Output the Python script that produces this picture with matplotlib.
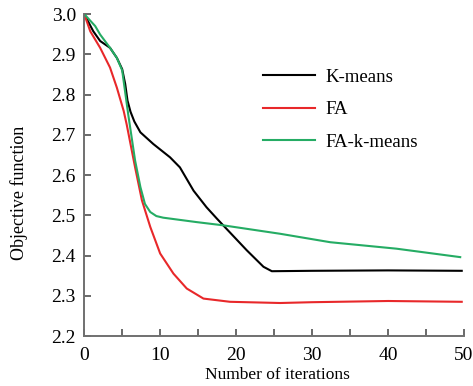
import matplotlib
matplotlib.use("Agg")
import matplotlib.pyplot as plt
from matplotlib.ticker import MultipleLocator, FormatStrFormatter

plt.rcParams["font.family"] = ["Liberation Serif", "DejaVu Serif"]

# K-means
km_x = [0, 1.2, 2.1, 3.4, 4.3, 5.0, 5.4, 5.7, 6.1, 6.6, 7.4, 9.1, 11.3, 12.6, 14.4, 16.1, 17.5,
        18.3, 21.4, 23.6, 24.7, 30, 40, 49.7]
km_y = [3.0, 2.957, 2.933, 2.916, 2.891, 2.863, 2.826, 2.785, 2.757, 2.733, 2.706, 2.677, 2.644,
        2.619, 2.561, 2.52, 2.491, 2.475, 2.413, 2.372, 2.361, 2.362, 2.363, 2.362]

# FA
fa_x = [0, 0.8, 2.1, 3.4, 4.3, 5.2, 5.6, 6.7, 7.6, 8.7, 10, 11.75, 13.5, 15.7, 19.2, 25.8, 30, 40, 49.7]
fa_y = [3.0, 2.957, 2.916, 2.867, 2.817, 2.759, 2.725, 2.619, 2.537, 2.471, 2.405, 2.355, 2.318,
        2.293, 2.285, 2.282, 2.284, 2.287, 2.285]

# FA-k-means
fk_x = [0, 1.45, 2.1, 3.4, 4.3, 5.0, 5.8, 6.7, 7.4, 8.0, 8.7, 9.5, 10.4, 12, 14.8, 18.3, 25.8,
        32.4, 41.1, 49.5]
fk_y = [3.0, 2.97, 2.949, 2.916, 2.891, 2.86, 2.75, 2.636, 2.57, 2.528, 2.508, 2.498, 2.494, 2.49,
        2.483, 2.475, 2.454, 2.433, 2.417, 2.396]

fig = plt.figure(figsize=(4.73, 3.86), dpi=100)
ax = fig.add_axes([0.178, 0.1295, 0.803, 0.8342])

ax.plot(km_x, km_y, color="black", lw=1.5, label="K-means")
ax.plot(fa_x, fa_y, color="#e8282a", lw=1.5, label="FA")
ax.plot(fk_x, fk_y, color="#25ac64", lw=1.5, label="FA-k-means")

ax.set_xlim(0, 50)
ax.set_ylim(2.2, 3.0)
ax.xaxis.set_major_locator(MultipleLocator(10))
ax.xaxis.set_minor_locator(MultipleLocator(5))
ax.yaxis.set_major_locator(MultipleLocator(0.1))
ax.yaxis.set_major_formatter(FormatStrFormatter("%.1f"))

for side in ["top", "right"]:
    ax.spines[side].set_visible(False)
for side in ["left", "bottom"]:
    ax.spines[side].set_color("#707070")
    ax.spines[side].set_linewidth(1.4)

ax.tick_params(which="both", direction="in", length=5, width=1.2, color="#505050", labelsize=14)
ax.tick_params(axis="x", which="both", pad=8)
ax.tick_params(axis="y", pad=6)

ax.set_xlabel("Number of iterations", fontsize=12.5)
ax.set_ylabel("Objective function", fontsize=13)
ax.xaxis.set_label_coords(0.509, -0.095)
ax.yaxis.set_label_coords(-0.147, 0.446)

ax.legend(loc="upper left", bbox_to_anchor=(0.445, 0.859), frameon=False, fontsize=13.5,
          borderpad=0, handlelength=2.8, handletextpad=0.55, labelspacing=0.82)

fig.savefig("out.png", dpi=100)
